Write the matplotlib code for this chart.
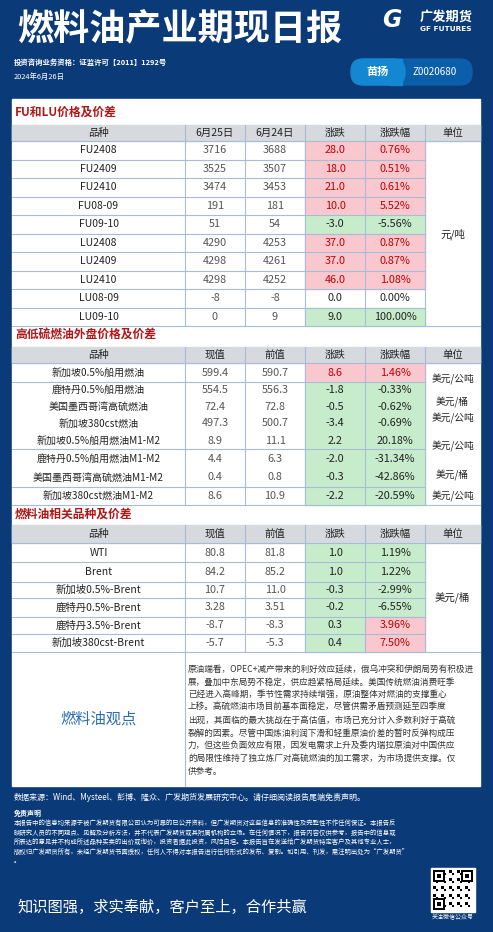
import matplotlib
matplotlib.use("Agg")
import matplotlib.pyplot as plt
from matplotlib.patches import Rectangle, FancyBboxPatch
import numpy as np

plt.rcParams['font.family'] = ['Noto Sans CJK SC', 'DejaVu Sans']

# ---------------- data ----------------
s1_title = "FU和LU价格及价差"
s1_header = ["品种", "6月25日", "6月24日", "涨跌", "涨跌幅", "单位"]
s1_names = ["FU2408", "FU2409", "FU2410", "FU08-09", "FU09-10", "LU2408", "LU2409", "LU2410", "LU08-09", "LU09-10"]
s1_cur = ["3716", "3525", "3474", "191", "51", "4290", "4298", "4298", "-8", "0"]
s1_prev = ["3688", "3507", "3453", "181", "54", "4253", "4261", "4252", "-8", "9"]
s1_chg = ["28.0", "18.0", "21.0", "10.0", "-3.0", "37.0", "37.0", "46.0", "0.0", "9.0"]
s1_pct = ["0.76%", "0.51%", "0.61%", "5.52%", "-5.56%", "0.87%", "0.87%", "1.08%", "0.00%", "100.00%"]
s1_dir_chg = [1, 1, 1, 1, -1, 1, 1, 1, 0, -1]
s1_dir_pct = [1, 1, 1, 1, -1, 1, 1, 1, 0, -1]

s2_title = "高低硫燃油外盘价格及价差"
s2_header = ["品种", "现值", "前值", "涨跌", "涨跌幅", "单位"]
s2_names = ["新加坡0.5%船用燃油", "鹿特丹0.5%船用燃油", "美国墨西哥湾高硫燃油", "新加坡380cst燃油",
            "新加坡0.5%船用燃油M1-M2", "鹿特丹0.5%船用燃油M1-M2", "美国墨西哥湾高硫燃油M1-M2", "新加坡380cst燃油M1-M2"]
s2_cur = ["599.4", "554.5", "72.4", "497.3", "8.9", "4.4", "0.4", "8.6"]
s2_prev = ["590.7", "556.3", "72.8", "500.7", "11.1", "6.3", "0.8", "10.9"]
s2_chg = ["8.6", "-1.8", "-0.5", "-3.4", "2.2", "-2.0", "-0.3", "-2.2"]
s2_pct = ["1.46%", "-0.33%", "-0.62%", "-0.69%", "20.18%", "-31.34%", "-42.86%", "-20.59%"]
s2_dir_chg = [1, -1, -1, -1, -1, -1, -1, -1]
s2_dir_pct = [1, -1, -1, -1, -1, -1, -1, -1]
s2_units = [("美元/公吨", 0.95), ("美元/桶", 2.25), ("美元/公吨", 3.15), ("美元/公吨", 4.7), ("美元/桶", 6.35), ("美元/公吨", 7.5)]

s3_title = "燃料油相关品种及价差"
s3_header = ["品种", "现值", "前值", "涨跌", "涨跌幅", "单位"]
s3_names = ["WTI", "Brent", "新加坡0.5%-Brent", "鹿特丹0.5%-Brent", "鹿特丹3.5%-Brent", "新加坡380cst-Brent"]
s3_cur = ["80.8", "84.2", "10.7", "3.28", "-8.7", "-5.7"]
s3_prev = ["81.8", "85.2", "11.0", "3.51", "-8.3", "-5.3"]
s3_chg = ["1.0", "1.0", "-0.3", "-0.2", "0.3", "0.4"]
s3_pct = ["1.19%", "1.22%", "-2.99%", "-6.55%", "3.96%", "7.50%"]
s3_dir_chg = [-1, -1, -1, -1, -1, -1]
s3_dir_pct = [-1, -1, -1, -1, 1, 1]

view_title = "燃料油观点"
view_lines = [
    "原油端看，OPEC+减产带来的利好效应延续，俄乌冲突和伊朗局势有积极进",
    "展，叠加中东局势不稳定，供应趋紧格局延续。美国传统燃油消费旺季",
    "已经进入高峰期，季节性需求持续增强，原油整体对燃油的支撑重心",
    "上移。高硫燃油市场目前基本面稳定，尽管供需矛盾预测延至四季度",
    "出现，其面临的最大挑战在于高估值，市场已充分计入多数利好于高硫",
    "裂解的因素。尽管中国炼油利润下滑和轻重原油价差的暂时反弹构成压",
    "力，但这些负面效应有限，因发电需求上升及委内瑞拉原油对中国供应",
    "的局限性维持了独立炼厂对高硫燃油的加工需求，为市场提供支撑。仅",
    "供参考。",
]
disclaimer = [
    "本报告中的信息均来源于被广发期货有限公司认为可靠的已公开资料，但广发期货对这些信息的准确性及完整性不作任何保证。本报告反",
    "映研究人员的不同观点、见解及分析方法，并不代表广发期货或其附属机构的立场。在任何情况下，报告内容仅供参考，报告中的信息或",
    "所表达的意见并不构成所述品种买卖的出价或询价，投资者据此投资，风险自担。本报告旨在发送给广发期货特定客户及其他专业人士，",
    "版权归广发期货所有，未经广发期货书面授权，任何人不得对本报告进行任何形式的发布、复制。如引用、刊发，需注明出处为“广发期货”",
    "。",
]

# ---------------- drawing ----------------
NAVY = "#0b3a78"
RED_BG = "#f9c8cf"
GREEN_BG = "#c6eccb"
HDR = "#d6d9de"
LINE = "#a9bcd6"
RED_T = "#c00000"
DARK = "#222222"

fig = plt.figure(figsize=(4.93, 9.32), dpi=100)
ax = fig.add_axes([0, 0, 1, 1])
ax.set_xlim(0, 493)
ax.set_ylim(932, 0)
ax.axis("off")
ax.add_patch(Rectangle((0, 0), 493, 932, color=NAVY, zorder=0))

# header
ax.text(17, 30, "燃料油产业期现日报", color="white", fontsize=26, fontweight="bold", va="center", ha="left")
ax.text(392, 20, "G", color="white", fontsize=17, fontweight="bold", fontstyle="italic", va="center", ha="center", family="DejaVu Sans")
ax.text(420, 17, "广发期货", color="white", fontsize=9.5, fontweight="bold", va="center", ha="left")
ax.text(420, 29, "GF FUTURES", color="white", fontsize=5.3, fontweight="bold", va="center", ha="left", family="DejaVu Sans")
ax.text(14, 62, "投资咨询业务资格：证监许可【2011】1292号", color="white", fontsize=5.3, fontweight="bold", va="center")
ax.text(14, 77, "2024年6月26日", color="white", fontsize=5.3, va="center")
ax.add_patch(FancyBboxPatch((356, 59), 116, 26, boxstyle="round,pad=0,rounding_size=12", color="#0a5eaa", zorder=1))
ax.add_patch(FancyBboxPatch((351, 59), 54, 26, boxstyle="round,pad=0,rounding_size=12", color="#1387d1", zorder=2))
ax.add_patch(Rectangle((390, 59), 12, 26, color="#1387d1", zorder=2))
ax.text(378, 72, "苗扬", color="white", fontsize=8, fontweight="bold", va="center", ha="center", zorder=3)
ax.text(435, 72, "Z0020680", color="white", fontsize=7, va="center", ha="center", zorder=3)

# white panel
ax.add_patch(Rectangle((12, 99), 468, 687, color="white", zorder=1))
cols = [12, 185, 245, 305, 365, 425, 480]


def cell_text(x0, x1, y, s, color=DARK, size=7.5, weight="normal"):
    ax.text((x0 + x1) / 2, y, s, ha="center", va="center", color=color, fontsize=size, fontweight=weight, zorder=5)


def section(title, ty, header, hy0, hy1, names, cur, prev, chg, pct, dchg, dpct, ys, hlines, name_size=7.5):
    ax.text(15, ty, title, color="#b01818", fontsize=8.5, fontweight="bold", va="center", zorder=5)
    ax.add_patch(Rectangle((12, hy0), 468, hy1 - hy0, color=HDR, zorder=2))
    for i, h in enumerate(header):
        cell_text(cols[i], cols[i + 1], (hy0 + hy1) / 2, h, size=7.5)
    for i in range(len(names)):
        y0, y1 = ys[i], ys[i + 1]
        for k, (d, v) in enumerate([(dchg[i], chg[i]), (dpct[i], pct[i])]):
            c0, c1 = cols[3 + k], cols[4 + k]
            if d != 0:
                ax.add_patch(Rectangle((c0, y0), c1 - c0, y1 - y0, color=RED_BG if d > 0 else GREEN_BG, zorder=2))
            cell_text(c0, c1, (y0 + y1) / 2, v, color=RED_T if d > 0 else DARK, size=7.8)
        ym = (y0 + y1) / 2
        cell_text(cols[0], cols[1], ym, names[i], size=name_size)
        cell_text(cols[1], cols[2], ym, cur[i], color="#555555", size=7.8)
        cell_text(cols[2], cols[3], ym, prev[i], color="#555555", size=7.8)
    for j in hlines:
        ax.plot([cols[0], cols[5]], [ys[j], ys[j]], color=LINE, lw=0.8, zorder=4)
    for c in cols[1:6]:
        ax.plot([c, c], [hy0, ys[-1]], color=LINE, lw=0.8, zorder=4)
    ax.plot([cols[0], cols[6]], [hy1, hy1], color=LINE, lw=0.8, zorder=4)
    ax.plot([cols[0], cols[6]], [ys[-1], ys[-1]], color=LINE, lw=0.8, zorder=4)


ys1 = list(np.linspace(141, 326, 11))
section(s1_title, 112, s1_header, 125, 141, s1_names, s1_cur, s1_prev, s1_chg, s1_pct,
        s1_dir_chg, s1_dir_pct, ys1, range(1, 10))
cell_text(cols[5], cols[6], 234, "元/吨", size=7.5)

ys2 = [363, 382, 398.5, 415, 432, 449, 468, 487, 505]
section(s2_title, 335, s2_header, 347, 363, s2_names, s2_cur, s2_prev, s2_chg, s2_pct,
        s2_dir_chg, s2_dir_pct, ys2, [1, 5, 7], name_size=7.2)
for u, pos in s2_units:
    cell_text(cols[5], cols[6], 363 + pos * (505 - 363) / 8, u, size=7)

ys3 = [543, 562, 582, 598, 617, 634, 652]
section(s3_title, 514, s3_header, 525, 543, s3_names, s3_cur, s3_prev, s3_chg, s3_pct,
        s3_dir_chg, s3_dir_pct, ys3, range(1, 6))
cell_text(cols[5], cols[6], 597, "美元/桶", size=7.5)

# view box
ax.plot([cols[1], cols[1]], [652, 786], color=LINE, lw=0.8, zorder=4)
cell_text(cols[0], cols[1], 719, view_title, color="#2a6db0", size=11)
for i, line in enumerate(view_lines):
    ax.text(188, 669 + i * 12.8, line, fontsize=6.2, color="#333333", va="center", ha="left", zorder=5)

# footer
ax.text(14, 797, "数据来源：Wind、Mysteel、彭博、隆众、广发期货发展研究中心。请仔细阅读报告尾端免责声明。",
        color="white", fontsize=5.8, va="center")
ax.text(14, 813, "免责声明", color="white", fontsize=5, fontweight="bold", va="center")
for i, line in enumerate(disclaimer):
    ax.text(14, 823 + i * 9.5, line, color="white", fontsize=4.6, va="center")
ax.text(17, 907, "知识图强，求实奉献，客户至上，合作共赢", color="white", fontsize=11, va="center")

# QR code decoration
ax.add_patch(Rectangle((431, 868), 44, 44, color="white", zorder=2))
pattern = np.array([[(i * 7 + j * 13 + i * j) % 3 == 0 for j in range(15)] for i in range(15)])
ax.imshow(~pattern, cmap="gray", extent=(433, 473, 910, 870), zorder=3, interpolation="nearest")
for (qx, qy) in [(433, 870), (461, 870), (433, 898)]:
    ax.add_patch(Rectangle((qx, qy), 12, 12, facecolor="black", zorder=4))
    ax.add_patch(Rectangle((qx + 2, qy + 2), 8, 8, facecolor="white", zorder=4))
    ax.add_patch(Rectangle((qx + 4, qy + 4), 4, 4, facecolor="black", zorder=4))
ax.set_xlim(0, 493)
ax.set_ylim(932, 0)
ax.text(453, 917, "关注微信公众号", color="white", fontsize=4.3, va="center", ha="center")

fig.savefig("out.png", dpi=100)
